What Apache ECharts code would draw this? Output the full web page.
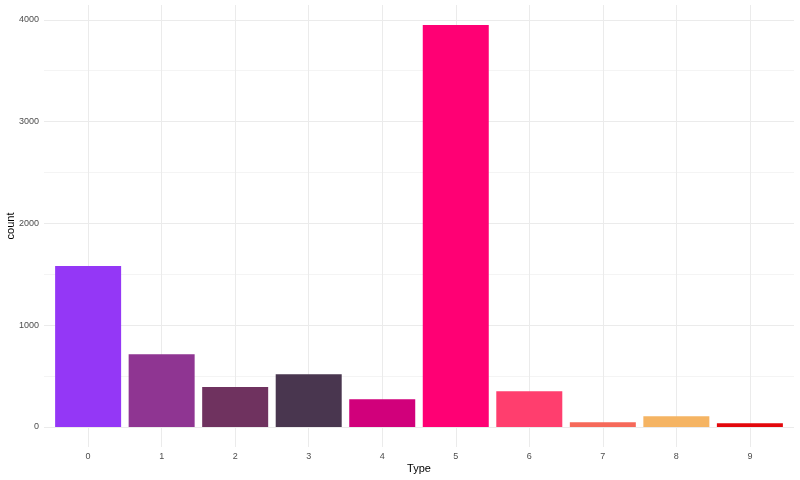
<!DOCTYPE html>
<html>
<head>
<meta charset="utf-8">
<script src="https://cdn.jsdelivr.net/npm/echarts@6/dist/echarts.min.js"></script>
<style>html,body{margin:0;padding:0;background:#fff;}#c{width:800px;height:480px;}</style>
</head>
<body>
<div id="c"></div>
<script>
const types = [0, 1, 2, 3, 4, 5, 6, 7, 8, 9];
const counts = [1580, 715, 393, 518, 272, 3948, 351, 46, 105, 36];
const barColors = ['#9437f6', '#8f3592', '#6f325f', '#49364f', '#d1007b', '#ff0074', '#ff3e6e', '#f6695a', '#f5b463', '#e3080c'];
const yLabelValues = [0, 1000, 2000, 3000, 4000];
const yGridValues = [0, 500, 1000, 1500, 2000, 2500, 3000, 3500, 4000];

const maxC = Math.max(...counts);
const chart = echarts.init(document.getElementById('c'), null, {renderer: 'canvas'});
const font = 'Liberation Sans, Arial, sans-serif';
chart.setOption({
  animation: false,
  backgroundColor: '#ffffff',
  grid: {left: 44, right: 6, top: 5, bottom: 33, containLabel: false, outerBoundsMode: 'none'},
  xAxis: {
    type: 'value',
    min: -0.6, max: types.length - 1 + 0.6,
    name: 'Type', nameLocation: 'middle', nameGap: 16, nameMoveOverlap: false,
    nameTextStyle: {color: '#000', fontSize: 11, fontFamily: font},
    axisLine: {show: false},
    axisTick: {show: false, customValues: types},
    axisLabel: {customValues: types, color: '#4d4d4d', fontSize: 9, margin: 5, fontFamily: font, formatter: v => String(v)},
    splitLine: {show: true, lineStyle: {color: '#ebebeb', width: 1}}
  },
  yAxis: {
    type: 'value',
    min: -maxC * 0.05, max: maxC * 1.05,
    name: 'count', nameLocation: 'middle', nameGap: 28, nameRotate: 90, nameMoveOverlap: false,
    nameTextStyle: {color: '#000', fontSize: 11, fontFamily: font},
    axisLine: {show: false},
    axisTick: {show: false, customValues: yGridValues},
    axisLabel: {customValues: yLabelValues, color: '#4d4d4d', fontSize: 9, margin: 5, fontFamily: font, formatter: v => String(v)},
    splitLine: {show: true, lineStyle: {color: ['#ebebeb', '#f4f4f4'], width: 1}}
  },
  series: [{
    type: 'bar',
    barWidth: 66,
    data: types.map((t, i) => ({value: [t, counts[i]], itemStyle: {color: barColors[i]}}))
  }]
});
</script>
</body>
</html>
